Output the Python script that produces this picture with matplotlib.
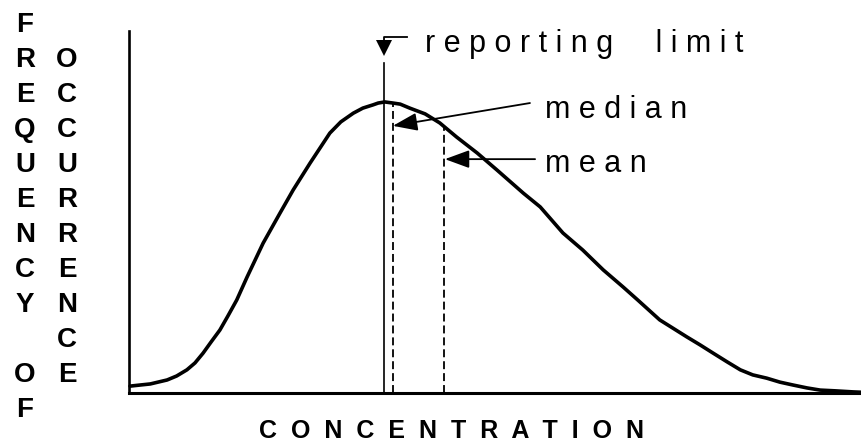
import matplotlib
matplotlib.use('Agg')
import matplotlib.pyplot as plt
import numpy as np

plt.rcParams['font.family'] = ['Liberation Sans', 'DejaVu Sans']

# ---- data ----
conc = [0.14, 1.5, 2.9, 5.2, 6.5, 7.9, 9.0, 10.1, 11.2, 12.4, 13.5, 14.7, 16.1,
        18.3, 20.6, 22.4, 24.7, 27.4, 28.9, 30.6, 31.9, 33.3, 34.0, 34.9, 36.0,
        37.0, 38.3, 40.4, 42.4, 44.7, 47.5, 50.2, 53.8, 56.1, 59.2, 61.9, 64.7,
        67.4, 69.4, 72.4, 76.1, 77.9, 79.7, 81.6, 83.4, 85.1, 87.0, 88.8, 90.6,
        92.5, 94.3, 96.3, 98.8, 100.0]
freq = [1.9, 2.2, 2.5, 3.6, 4.7, 6.4, 8.3, 11.0, 14.1, 17.4, 21.3, 25.7, 32.0,
        41.4, 49.7, 56.1, 63.5, 71.8, 74.9, 77.3, 78.7, 79.6, 80.1, 80.4, 80.1,
        79.8, 78.7, 77.1, 74.6, 70.7, 66.3, 61.6, 55.2, 51.4, 44.2, 39.5, 34.0,
        29.3, 25.7, 20.2, 15.5, 13.3, 11.0, 8.6, 6.4, 5.0, 4.1, 3.0, 2.2,
        1.4, 0.8, 0.6, 0.3, 0.2]
reporting_limit = 34.8
median = 36.0
mean = 43.0

x_label = 'CONCENTRATION'
y_label_1 = 'FREQUENCY OF'
y_label_2 = 'OCCURRENCE'
label_rl = 'reporting limit'
label_median = 'median'
label_mean = 'mean'


def spaced(s, word_gap=1):
    words = s.split(' ')
    return (' ' * (2 * word_gap + 1)).join(' '.join(w) for w in words)


W, H = 862, 446
fig = plt.figure(figsize=(W / 100, H / 100), dpi=100)
ax = fig.add_axes([129 / W, (H - 393) / H, (W - 129) / W, (393 - 31) / H])
ax.set_xlim(0, 100)
ax.set_ylim(0, 100)
for s in ['top', 'right']:
    ax.spines[s].set_visible(False)
ax.spines['left'].set_linewidth(1.9)
ax.spines['bottom'].set_linewidth(2.2)
ax.set_xticks([])
ax.set_yticks([])

# distribution curve
ax.plot(conc, freq, color='black', lw=2.6, solid_joinstyle='round',
        solid_capstyle='round', clip_on=False, zorder=3)

# reporting limit line + marker
ax.plot([reporting_limit, reporting_limit], [0, 91.2], color='black', lw=1.2)
ax.plot([reporting_limit + 3.1, reporting_limit, reporting_limit],
        [98.3, 98.3, 96.2], color='black', lw=1.3)
ax.plot([reporting_limit], [95.2], marker='v', color='black', markersize=12,
        markeredgewidth=0)

# median / mean dashed lines
dash = (0, (4.4, 2.2))
ax.plot([median, median], [0, np.interp(median, conc, freq)], color='black',
        lw=1.3, ls=dash)
ax.plot([mean, mean], [0, np.interp(mean, conc, freq)], color='black',
        lw=1.3, ls=dash)

# arrows
arrow = dict(arrowstyle='-|>,head_length=1.5,head_width=0.55', color='black',
             lw=1.3, shrinkA=0, shrinkB=0, mutation_scale=10)
ax.annotate('', xy=(median, 73.8), xytext=(54.7, 80.1), arrowprops=arrow)
ax.annotate('', xy=(mean + 0.1, 64.6), xytext=(55.4, 64.6), arrowprops=arrow)

# annotation texts
fs = 22
ax.text(40.4, 94.2, spaced(label_rl, 2), fontsize=fs, va='baseline', ha='left')
ax.text(56.8, 76.0, spaced(label_median), fontsize=fs, va='baseline', ha='left')
ax.text(56.8, 61.0, spaced(label_mean), fontsize=fs, va='baseline', ha='left')

# x label
fig.text(452 / W, 1 - 438 / H, '  '.join(x_label), fontsize=18,
         fontweight='bold', ha='center', va='baseline')

# vertical y label (stacked letters, two columns)
for i, ch in enumerate(y_label_1):
    yc = 22 + 35.0 * i
    fig.text(25 / W, 1 - (yc + 10) / H, ch, fontsize=20, fontweight='bold',
             ha='center', va='baseline')
for i, ch in enumerate(y_label_2):
    yc = 22 + 35.0 * (i + 1)
    fig.text(67 / W, 1 - (yc + 10) / H, ch, fontsize=20, fontweight='bold',
             ha='center', va='baseline')

fig.savefig('out.png', dpi=100)
